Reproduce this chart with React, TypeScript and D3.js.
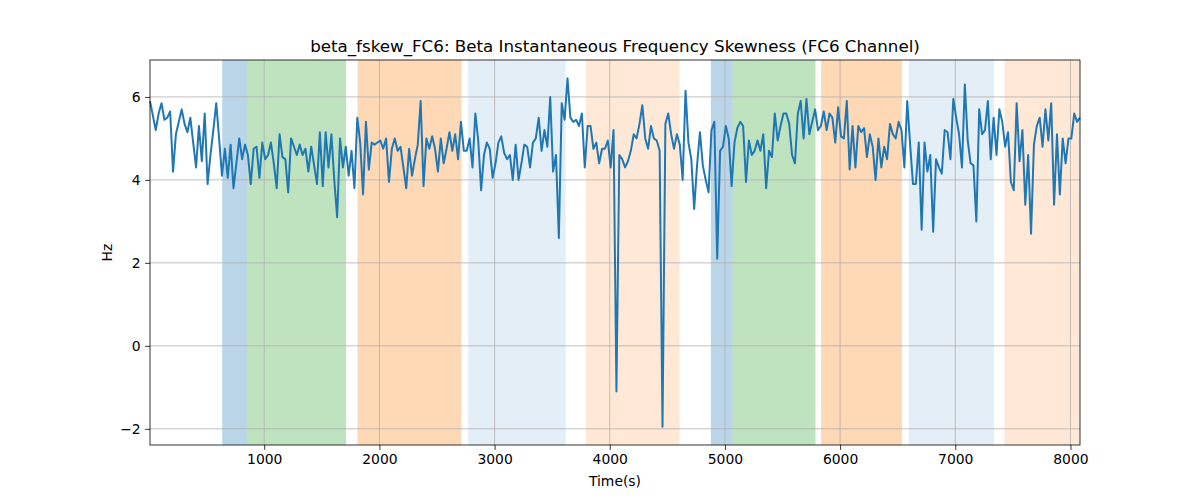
import React, { useEffect, useRef } from 'react';
import * as d3 from 'd3';

// sampling of the skewness signal (seconds)
const sampleStart = 8;
const sampleStep = 25;

const skewValues: number[] = [
  5.9, 5.55, 5.2, 5.6, 5.85, 5.45, 5.5, 5.65, 4.2, 5.1,
  5.4, 5.7, 5.35, 5.15, 5.5, 4.9, 4.3, 5.3, 4.45, 5.6,
  3.9, 4.6, 5.2, 5.85, 5.0, 4.1, 4.75, 4.05, 4.85, 3.8,
  4.4, 5.0, 4.5, 4.85, 4.6, 3.9, 4.75, 4.8, 4.05, 4.9,
  4.5, 4.6, 4.9, 4.4, 3.8, 5.1, 4.55, 4.5, 3.7, 5.0,
  4.8, 4.6, 4.85, 4.6, 4.75, 4.2, 4.8, 4.35, 3.9, 5.15,
  3.85, 5.15, 4.3, 5.1, 4.0, 3.1, 5.0, 4.3, 4.8, 4.1,
  4.7, 3.8, 5.5, 4.9, 3.65, 5.4, 4.25, 4.9, 4.85, 4.9,
  4.95, 4.75, 5.0, 3.95, 4.75, 5.0, 4.7, 4.8, 4.3, 3.8,
  4.75, 4.1, 4.5, 4.85, 5.9, 3.85, 5.0, 4.75, 5.05, 4.75,
  4.2, 5.0, 4.4, 4.75, 5.15, 4.7, 5.1, 4.5, 5.4, 4.7,
  4.7, 5.0, 4.3, 5.6, 4.95, 3.75, 4.6, 4.9, 4.75, 4.05,
  4.4, 4.9, 5.05, 4.65, 4.5, 4.6, 4.0, 4.85, 4.0, 4.4,
  4.85, 4.8, 4.3, 4.9, 5.0, 5.5, 4.7, 5.2, 4.8, 6.0,
  4.2, 4.6, 2.6, 5.85, 5.45, 6.45, 5.5, 5.4, 5.45, 5.3,
  5.6, 4.3, 5.3, 5.3, 4.75, 4.9, 4.4, 4.75, 4.75, 4.95,
  4.3, 5.2, -1.1, 4.6, 4.5, 4.3, 4.45, 4.7, 5.1, 5.0,
  5.35, 5.8, 5.0, 4.75, 5.3, 5.0, 4.95, 4.7, -1.95, 5.35,
  5.6, 5.1, 4.75, 5.1, 4.85, 4.0, 6.15, 4.9, 4.5, 3.3,
  4.35, 5.15, 4.35, 4.0, 3.7, 5.2, 5.4, 2.1, 4.7, 4.8,
  5.3, 5.0, 3.85, 4.9, 5.25, 5.4, 5.3, 3.95, 4.95, 4.6,
  4.7, 4.95, 4.7, 5.1, 3.8, 4.7, 4.55, 5.6, 4.95, 5.3,
  5.6, 5.6, 5.35, 4.6, 4.4, 5.6, 5.9, 5.0, 5.95, 5.1,
  5.4, 5.7, 5.2, 5.3, 5.65, 5.2, 5.6, 5.5, 4.9, 5.75,
  5.05, 5.0, 5.9, 4.25, 5.3, 4.3, 5.3, 5.15, 5.25, 4.55,
  5.1, 4.8, 4.0, 5.0, 4.3, 4.8, 4.5, 5.35, 5.1, 5.0,
  5.4, 5.2, 4.3, 5.9, 4.85, 3.9, 3.9, 4.9, 2.8, 4.9,
  4.2, 4.6, 2.75, 4.5, 4.3, 4.15, 5.2, 5.15, 4.5, 5.95,
  5.5, 5.1, 4.3, 6.3, 4.95, 4.4, 4.35, 3.0, 5.7, 5.1,
  5.2, 5.9, 4.5, 5.5, 4.6, 5.7, 5.4, 4.8, 5.15, 3.95,
  3.75, 5.85, 4.45, 5.2, 3.4, 4.6, 2.7, 4.85, 5.3, 5.5,
  4.8, 5.7, 4.95, 5.85, 3.4, 5.1, 3.65, 5.0, 4.4, 5.0,
  5.0, 5.6, 5.4, 5.5,
];

// shaded segments (start, end in seconds) with their colour and opacity
const spanStarts = [635, 850, 1809, 2771, 3791, 4878, 5067, 5835, 6597, 7427];
const spanEnds = [850, 1710, 2713, 3617, 4606, 5067, 5786, 6537, 7337, 8083];
const spanColors = ['#1f77b4', '#2ca02c', '#ff7f0e', '#1f77b4', '#ff7f0e', '#1f77b4', '#2ca02c', '#ff7f0e', '#1f77b4', '#ff7f0e'];
const spanAlphas = [0.3, 0.3, 0.3, 0.12, 0.17, 0.3, 0.3, 0.3, 0.12, 0.17];

const xTicks = [1000, 2000, 3000, 4000, 5000, 6000, 7000, 8000];
const yTicks = [-2, 0, 2, 4, 6];

const chartTitle = 'beta_fskew_FC6: Beta Instantaneous Frequency Skewness (FC6 Channel)';

const App: React.FC = () => {
  const svgRef = useRef<SVGSVGElement>(null);

  useEffect(() => {
    const svg = d3.select(svgRef.current);
    svg.selectAll('*').remove();

    const width = 1200;
    const height = 500;
    const margin = { top: 60, right: 120, bottom: 55, left: 150 };
    const chartWidth = width - margin.left - margin.right;
    const chartHeight = height - margin.top - margin.bottom;
    const font = 'DejaVu Sans, sans-serif';

    const data = skewValues.map((v, i) => ({ t: sampleStart + i * sampleStep, v }));

    const x = d3.scaleLinear()
      .domain([data[0].t, data[data.length - 1].t])
      .range([0, chartWidth]);
    const y = d3.scaleLinear()
      .domain([-2.39, 6.89])
      .range([chartHeight, 0]);

    svg.append('rect').attr('width', width).attr('height', height).attr('fill', 'white');

    const g = svg.append('g').attr('transform', `translate(${margin.left},${margin.top})`);

    // shaded spans
    spanStarts.forEach((s, i) => {
      g.append('rect')
        .attr('x', x(s))
        .attr('y', 0)
        .attr('width', x(spanEnds[i]) - x(s))
        .attr('height', chartHeight)
        .attr('fill', spanColors[i])
        .attr('fill-opacity', spanAlphas[i]);
    });

    // grid
    xTicks.forEach(t => {
      g.append('line')
        .attr('x1', x(t)).attr('x2', x(t))
        .attr('y1', 0).attr('y2', chartHeight)
        .attr('stroke', '#b0b0b0').attr('stroke-width', 0.8);
    });
    yTicks.forEach(t => {
      g.append('line')
        .attr('x1', 0).attr('x2', chartWidth)
        .attr('y1', y(t)).attr('y2', y(t))
        .attr('stroke', '#b0b0b0').attr('stroke-width', 0.8);
    });

    // signal
    const line = d3.line<{ t: number; v: number }>()
      .x(d => x(d.t))
      .y(d => y(d.v));
    g.append('path')
      .datum(data)
      .attr('d', line)
      .attr('fill', 'none')
      .attr('stroke', '#1f77b4')
      .attr('stroke-width', 2)
      .attr('stroke-linejoin', 'round');

    // frame
    g.append('rect')
      .attr('width', chartWidth).attr('height', chartHeight)
      .attr('fill', 'none').attr('stroke', 'black').attr('stroke-width', 0.8);

    const xAxisG = g.append('g')
      .attr('transform', `translate(0,${chartHeight})`)
      .call(d3.axisBottom(x).tickValues(xTicks).tickFormat(d3.format('d')).tickSize(4.9).tickPadding(4.5));
    const yAxisG = g.append('g')
      .call(d3.axisLeft(y).tickValues(yTicks).tickFormat(d => d3.format('d')(d as number).replace('-', '\u2212')).tickSize(4.9).tickPadding(4.5));

    [xAxisG, yAxisG].forEach(ax => {
      ax.select('.domain').remove();
      ax.selectAll('.tick line').attr('stroke', 'black').attr('stroke-width', 0.8);
      ax.selectAll('text')
        .attr('fill', 'black')
        .attr('font-size', 13.9)
        .attr('font-family', font);
    });

    svg.append('text')
      .attr('x', margin.left + chartWidth / 2)
      .attr('y', margin.top - 8)
      .attr('text-anchor', 'middle')
      .attr('font-family', font)
      .attr('font-size', 16.7)
      .text(chartTitle);

    svg.append('text')
      .attr('x', margin.left + chartWidth / 2)
      .attr('y', 486)
      .attr('text-anchor', 'middle')
      .attr('font-family', font)
      .attr('font-size', 13.9)
      .text('Time(s)');

    svg.append('text')
      .attr('transform', `translate(112,${margin.top + chartHeight / 2}) rotate(-90)`)
      .attr('text-anchor', 'middle')
      .attr('font-family', font)
      .attr('font-size', 13.9)
      .text('Hz');
  }, []);

  return (
    <div style={{ position: 'absolute', left: 0, top: 0, width: 1200, height: 500 }}>
      <svg ref={svgRef} width={1200} height={500} style={{ display: 'block' }}></svg>
    </div>
  );
};

export default App;
